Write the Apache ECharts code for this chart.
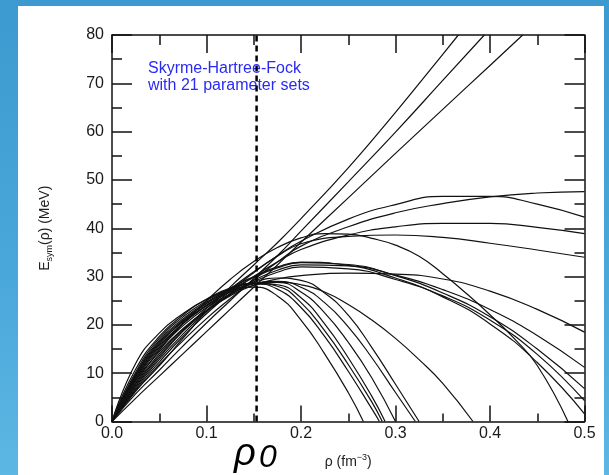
<!DOCTYPE html>
<html>
<head>
<meta charset="utf-8">
<script src="https://cdn.jsdelivr.net/npm/echarts@6/dist/echarts.min.js"></script>
<style>
html,body{margin:0;padding:0;width:609px;height:475px;overflow:hidden;}
body{background:linear-gradient(180deg,#3d9ad0 0%,#4ba8da 60%,#5cb7e3 100%);position:relative;}
#panel{position:absolute;left:18px;top:6px;width:586px;height:469px;background:#fff;}
#chart{position:absolute;left:0;top:0;width:609px;height:475px;}
</style>
</head>
<body>
<div id="panel"></div>
<div id="chart"></div>
<script>
// Saturation density marker
const rho0 = 0.153;
const xTicks = [0, 0.1, 0.2, 0.3, 0.4, 0.5];
const yTicks = [0, 10, 20, 30, 40, 50, 60, 70, 80];

// 21 Skyrme parameter sets: [rho (fm^-3), Esym (MeV)]
const A1 = [[0,0],[0.025,6.3],[0.05,11.5],[0.075,17.2],[0.1,22.8],[0.125,27.8],[0.15,32.4],[0.175,37],[0.2,42],[0.25,52.5],[0.3,64],[0.35,76],[0.3665,80]];
const A2 = [[0,0],[0.025,5.7],[0.05,10.6],[0.075,15.6],[0.1,20.4],[0.125,25],[0.15,29.6],[0.175,34.3],[0.2,39.4],[0.25,49.6],[0.3,59.9],[0.35,70.6],[0.394,80]];
const A3 = [[0,0],[0.025,4.8],[0.05,9.4],[0.075,14],[0.1,18.6],[0.125,23.2],[0.15,27.8],[0.175,32.4],[0.2,37.1],[0.25,46.3],[0.3,55.5],[0.35,64.6],[0.4,73.7],[0.4346,80]];
const C1 = [[0,0],[0.025,6.3],[0.05,11.8],[0.075,16.7],[0.1,21.3],[0.125,25.4],[0.15,29.3],[0.175,33],[0.2,36.3],[0.25,40.3],[0.3,43.2],[0.35,45.1],[0.4,46.5],[0.45,47.3],[0.5,47.6]];
const C2 = [[0,0],[0.025,6.9],[0.05,12.8],[0.075,18.1],[0.1,22.7],[0.125,27],[0.15,30.8],[0.175,34.3],[0.2,37.3],[0.25,41.9],[0.3,44.9],[0.35,46.6],[0.4,46.6],[0.45,45],[0.5,42.3]];
const C3 = [[0,0],[0.025,6.6],[0.05,12.3],[0.075,17.6],[0.1,22.3],[0.125,26.5],[0.15,30],[0.175,33],[0.2,35.6],[0.25,38.6],[0.3,40.3],[0.35,41],[0.4,41],[0.45,40.2],[0.5,38.9]];
const C4 = [[0,0],[0.025,7.2],[0.05,13.2],[0.075,18.7],[0.1,23.4],[0.125,27.4],[0.15,31],[0.175,34.2],[0.2,36.8],[0.25,38.3],[0.3,38.6],[0.35,38.1],[0.4,36.9],[0.45,35.5],[0.5,34]];
const C5 = [[0,0],[0.025,8.4],[0.05,14.4],[0.075,19.2],[0.1,23],[0.125,26],[0.15,28.2],[0.175,29.5],[0.2,30.2],[0.25,30.7],[0.3,30.5],[0.35,29.5],[0.4,27],[0.45,23.2],[0.5,18.5]];
const C6 = [[0,0],[0.025,7.8],[0.05,14],[0.075,19],[0.1,23],[0.125,26.4],[0.15,29.2],[0.175,31.3],[0.2,32.4],[0.25,32.2],[0.3,30.3],[0.35,27.3],[0.4,23.2],[0.45,17.8],[0.5,11.2]];
const C7 = [[0,0],[0.025,8.8],[0.05,15.3],[0.075,20.2],[0.1,24],[0.125,27.2],[0.15,29.8],[0.175,31.8],[0.2,32.9],[0.25,32.5],[0.3,30.2],[0.35,26.6],[0.4,21.7],[0.45,15],[0.5,6.8]];
const C8 = [[0,0],[0.025,7.5],[0.05,13.6],[0.075,18.7],[0.1,22.8],[0.125,26.2],[0.15,28.9],[0.175,30.9],[0.2,32],[0.25,31.6],[0.3,29.4],[0.35,26],[0.4,21],[0.45,13.9],[0.5,4.3]];
const C9 = [[0,0],[0.025,9.2],[0.05,15.9],[0.075,20.8],[0.1,24.5],[0.125,27.6],[0.15,30],[0.175,32],[0.2,33],[0.25,32.3],[0.3,29.7],[0.35,25.8],[0.4,20.2],[0.45,12.2],[0.5,1.6]];
const C10 = [[0,0],[0.025,8],[0.05,14.7],[0.075,20.2],[0.1,25],[0.125,29.4],[0.15,33.1],[0.175,36],[0.2,38],[0.225,38.9],[0.25,38.8],[0.275,37.9],[0.3,36.5],[0.325,34.2],[0.35,30.6],[0.375,26.5],[0.4,22.1],[0.425,17.3],[0.45,11.6],[0.4825,0]];
const C11 = [[0,0],[0.025,8.5],[0.05,15],[0.075,19.8],[0.1,23.6],[0.125,26.4],[0.15,28.2],[0.175,28.8],[0.2,28.3],[0.225,26.8],[0.25,24.2],[0.275,21],[0.3,17.2],[0.325,12.8],[0.35,7.9],[0.382,0]];
const S1 = [[0,0],[0.025,12],[0.05,18.3],[0.075,22.3],[0.1,25.3],[0.125,27.2],[0.15,27.8],[0.175,26],[0.2,21],[0.225,14],[0.25,6],[0.266,0]];
const S2 = [[0,0],[0.025,10.8],[0.05,17.6],[0.075,22],[0.1,25.3],[0.125,27.6],[0.15,28.5],[0.175,27.4],[0.2,23.6],[0.225,17.6],[0.25,10.4],[0.275,2.6],[0.283,0]];
const S3 = [[0,0],[0.025,10.2],[0.05,17.2],[0.075,21.6],[0.1,25],[0.125,27.4],[0.15,28.6],[0.175,28],[0.2,24.6],[0.225,18.8],[0.25,11.8],[0.275,4],[0.286,0]];
const S4 = [[0,0],[0.025,9.8],[0.05,16.8],[0.075,21.2],[0.1,24.7],[0.125,27.2],[0.15,28.6],[0.175,28.3],[0.2,25.6],[0.225,20.2],[0.25,13.2],[0.275,5.2],[0.289,0]];
const S5 = [[0,0],[0.025,9.4],[0.05,16.2],[0.075,20.6],[0.1,24.1],[0.125,26.8],[0.15,28.5],[0.175,29],[0.2,27.8],[0.225,24.6],[0.25,19.6],[0.275,13.2],[0.3,6],[0.321,0]];
const S6 = [[0,0],[0.025,8.9],[0.05,15.6],[0.075,20.3],[0.1,23.9],[0.125,26.8],[0.15,28.8],[0.175,29.7],[0.2,29.2],[0.225,26.6],[0.25,22],[0.275,15.3],[0.3,7.7],[0.325,0]];
const S7 = [[0,0],[0.025,9.6],[0.05,16.5],[0.075,20.9],[0.1,24.4],[0.125,27.1],[0.15,28.7],[0.175,28.8],[0.2,26.8],[0.225,22.5],[0.25,16.4],[0.275,9],[0.3,0]];

const curves = [A1,A2,A3,C1,C2,C3,C4,C5,C6,C7,C8,C9,C10,C11,S1,S2,S3,S4,S5,S6,S7];

const chart = echarts.init(document.getElementById('chart'), null, {renderer:'canvas'});
const FONT = 'Liberation Sans, Arial, Helvetica, sans-serif';

function xAxisCfg(pos, showLabel, tickLen, minorLen){
  return {
    type:'value', position:pos, min:xTicks[0], max:xTicks[xTicks.length-1], interval:0.1,
    axisLine:{show:true, onZero:false, lineStyle:{color:'#111', width:1.5}},
    axisTick:{show:true, inside:true, length:tickLen, lineStyle:{color:'#111', width:1.5}},
    minorTick:{show:true, splitNumber:2, length:minorLen, lineStyle:{color:'#111', width:1.5}},
    splitLine:{show:false}, minorSplitLine:{show:false},
    axisLabel:{show:showLabel, formatter:v=>v.toFixed(1), fontSize:16, fontFamily:FONT, color:'#1a1a1a', margin:4}
  };
}
function yAxisCfg(pos, showLabel){
  return {
    type:'value', position:pos, min:yTicks[0], max:yTicks[yTicks.length-1], interval:10,
    axisLine:{show:true, onZero:false, lineStyle:{color:'#111', width:1.5}},
    axisTick:{show:true, inside:true, length:20, lineStyle:{color:'#111', width:1.5}},
    minorTick:{show:true, splitNumber:2, length:10, lineStyle:{color:'#111', width:1.5}},
    splitLine:{show:false}, minorSplitLine:{show:false},
    axisLabel:{show:showLabel, fontSize:16, fontFamily:FONT, color:'#1a1a1a', margin:8}
  };
}

const xb = xAxisCfg('bottom', true, 16, 8);
xb.name = '{a|ρ (fm}{s|−3}{a|)}';
xb.nameLocation = 'middle';
xb.nameGap = 32;
xb.nameTextStyle = {rich:{
  a:{fontSize:14, fontFamily:FONT, color:'#222', lineHeight:17},
  s:{fontSize:9, fontFamily:FONT, color:'#222', verticalAlign:'top', lineHeight:10}
}};
const xt = xAxisCfg('top', false, 18, 10);

const yl = yAxisCfg('left', true);
yl.name = '{a|E}{b|sym}{a|(ρ) (MeV)}';
yl.nameLocation = 'middle';
yl.nameGap = 58;
yl.nameTextStyle = {rich:{
  a:{fontSize:14, fontFamily:FONT, color:'#222', lineHeight:18},
  b:{fontSize:9, fontFamily:FONT, color:'#222', verticalAlign:'bottom', lineHeight:9}
}};
const yr = yAxisCfg('right', false);

const series = curves.map((d,i)=>({
  type:'line', name:'set'+(i+1), data:d, xAxisIndex:0, yAxisIndex:0,
  showSymbol:false, smooth:0.5, clip:true,
  lineStyle:{color:'#111', width:1.2}, silent:true, z:2
}));
series.push({
  type:'line', name:'rho0', data:[[rho0,yTicks[0]],[rho0,yTicks[yTicks.length-1]]],
  showSymbol:false, lineStyle:{color:'#000', width:2.5, type:[6,4]}, z:3, silent:true
});

chart.setOption({
  animation:false,
  backgroundColor:'transparent',
  grid:{left:112, right:24.5, top:35, bottom:53.5, containLabel:false},
  xAxis:[xb, xt],
  yAxis:[yl, yr],
  series:series,
  graphic:[
    {type:'text', left:148, top:60, style:{text:'Skyrme-Hartree-Fock\nwith 21 parameter sets', fill:'#2a2af5', font:'16px '+FONT, lineHeight:17}},
    {type:'text', left:234, top:435, style:{text:'ρ', fill:'#000', font:'italic 38px '+FONT}},
    {type:'text', left:259, top:442, style:{text:'0', fill:'#000', font:'italic 32px '+FONT}}
  ]
});
</script>
</body>
</html>
